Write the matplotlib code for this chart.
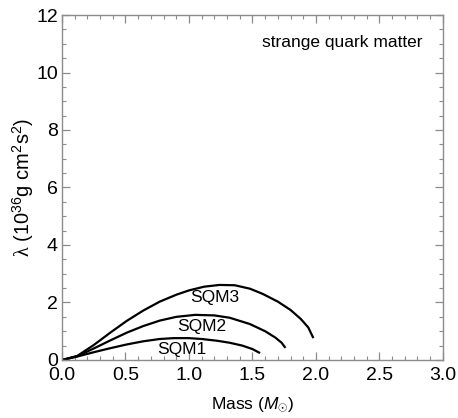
import numpy as np
import matplotlib
matplotlib.use('Agg')
import matplotlib.pyplot as plt
from matplotlib.ticker import MultipleLocator

plt.rcParams['font.family'] = ['Liberation Sans', 'DejaVu Sans']
plt.rcParams['mathtext.fontset'] = 'custom'
plt.rcParams['mathtext.rm'] = 'Liberation Sans'
plt.rcParams['mathtext.it'] = 'Liberation Sans:italic'
plt.rcParams['mathtext.sf'] = 'Liberation Serif'

# curves: mass (M_sun) and lambda (10^36 g cm^2 s^2)
m_sqm1 = [0.0, 0.12, 0.25, 0.38, 0.51, 0.64, 0.77, 0.88, 1.0, 1.1, 1.22, 1.32, 1.42, 1.5, 1.56]
l_sqm1 = [0.0, 0.12, 0.27, 0.41, 0.54, 0.65, 0.73, 0.76, 0.76, 0.73, 0.67, 0.60, 0.50, 0.38, 0.24]

m_sqm2 = [0.0, 0.12, 0.25, 0.38, 0.51, 0.64, 0.77, 0.9, 1.05, 1.2, 1.32, 1.48, 1.6, 1.68, 1.73, 1.76]
l_sqm2 = [0.0, 0.13, 0.40, 0.68, 0.95, 1.18, 1.37, 1.50, 1.57, 1.55, 1.47, 1.25, 1.0, 0.78, 0.60, 0.42]

m_sqm3 = [0.0, 0.12, 0.25, 0.38, 0.51, 0.64, 0.77, 0.9, 1.0, 1.12, 1.24, 1.36, 1.48, 1.58, 1.70, 1.80, 1.88, 1.94, 1.98]
l_sqm3 = [0.0, 0.14, 0.52, 0.95, 1.36, 1.72, 2.03, 2.27, 2.42, 2.55, 2.61, 2.60, 2.48, 2.30, 2.03, 1.74, 1.43, 1.13, 0.76]

labels = ['SQM1', 'SQM2', 'SQM3']
label_pos = [(0.94, 0.38), (1.10, 1.18), (1.20, 2.19)]

fig = plt.figure(figsize=(4.58, 4.18), dpi=100)
ax = fig.add_axes([0.1354, 0.1388, 0.8316, 0.8253])

for m, l in [(m_sqm1, l_sqm1), (m_sqm2, l_sqm2), (m_sqm3, l_sqm3)]:
    ax.plot(m, l, color='black', lw=1.6, solid_capstyle='butt')

for name, (x, y) in zip(labels, label_pos):
    ax.text(x, y, name, fontsize=12.5, ha='center', va='center')

ax.text(0.947, 0.92, 'strange quark matter', transform=ax.transAxes,
        fontsize=12.5, ha='right', va='center')

ax.set_xlim(0, 3.0)
ax.set_ylim(0, 12)
ax.xaxis.set_major_locator(MultipleLocator(0.5))
ax.xaxis.set_minor_locator(MultipleLocator(0.1))
ax.yaxis.set_major_locator(MultipleLocator(2))
ax.yaxis.set_minor_locator(MultipleLocator(0.5))
ax.xaxis.set_major_formatter(plt.FormatStrFormatter('%.1f'))

for s in ax.spines.values():
    s.set_color('#8c8c8c')
    s.set_linewidth(1.0)
ax.tick_params(which='both', direction='in', top=True, right=True,
               color='#8c8c8c', labelsize=14)
ax.tick_params(which='major', length=6, width=0.9)
ax.tick_params(which='minor', length=3, width=0.8)
ax.tick_params(axis='x', pad=5)
ax.tick_params(axis='y', pad=3)

ax.set_xlabel(r'Mass ($M_{\odot}$)', fontsize=12.5, labelpad=8)
ax.set_ylabel(r'$\mathsf{\lambda}$ (10$^{36}$g cm$^2$s$^2$)', fontsize=14.5, labelpad=0)

fig.savefig('out.png', dpi=100)
